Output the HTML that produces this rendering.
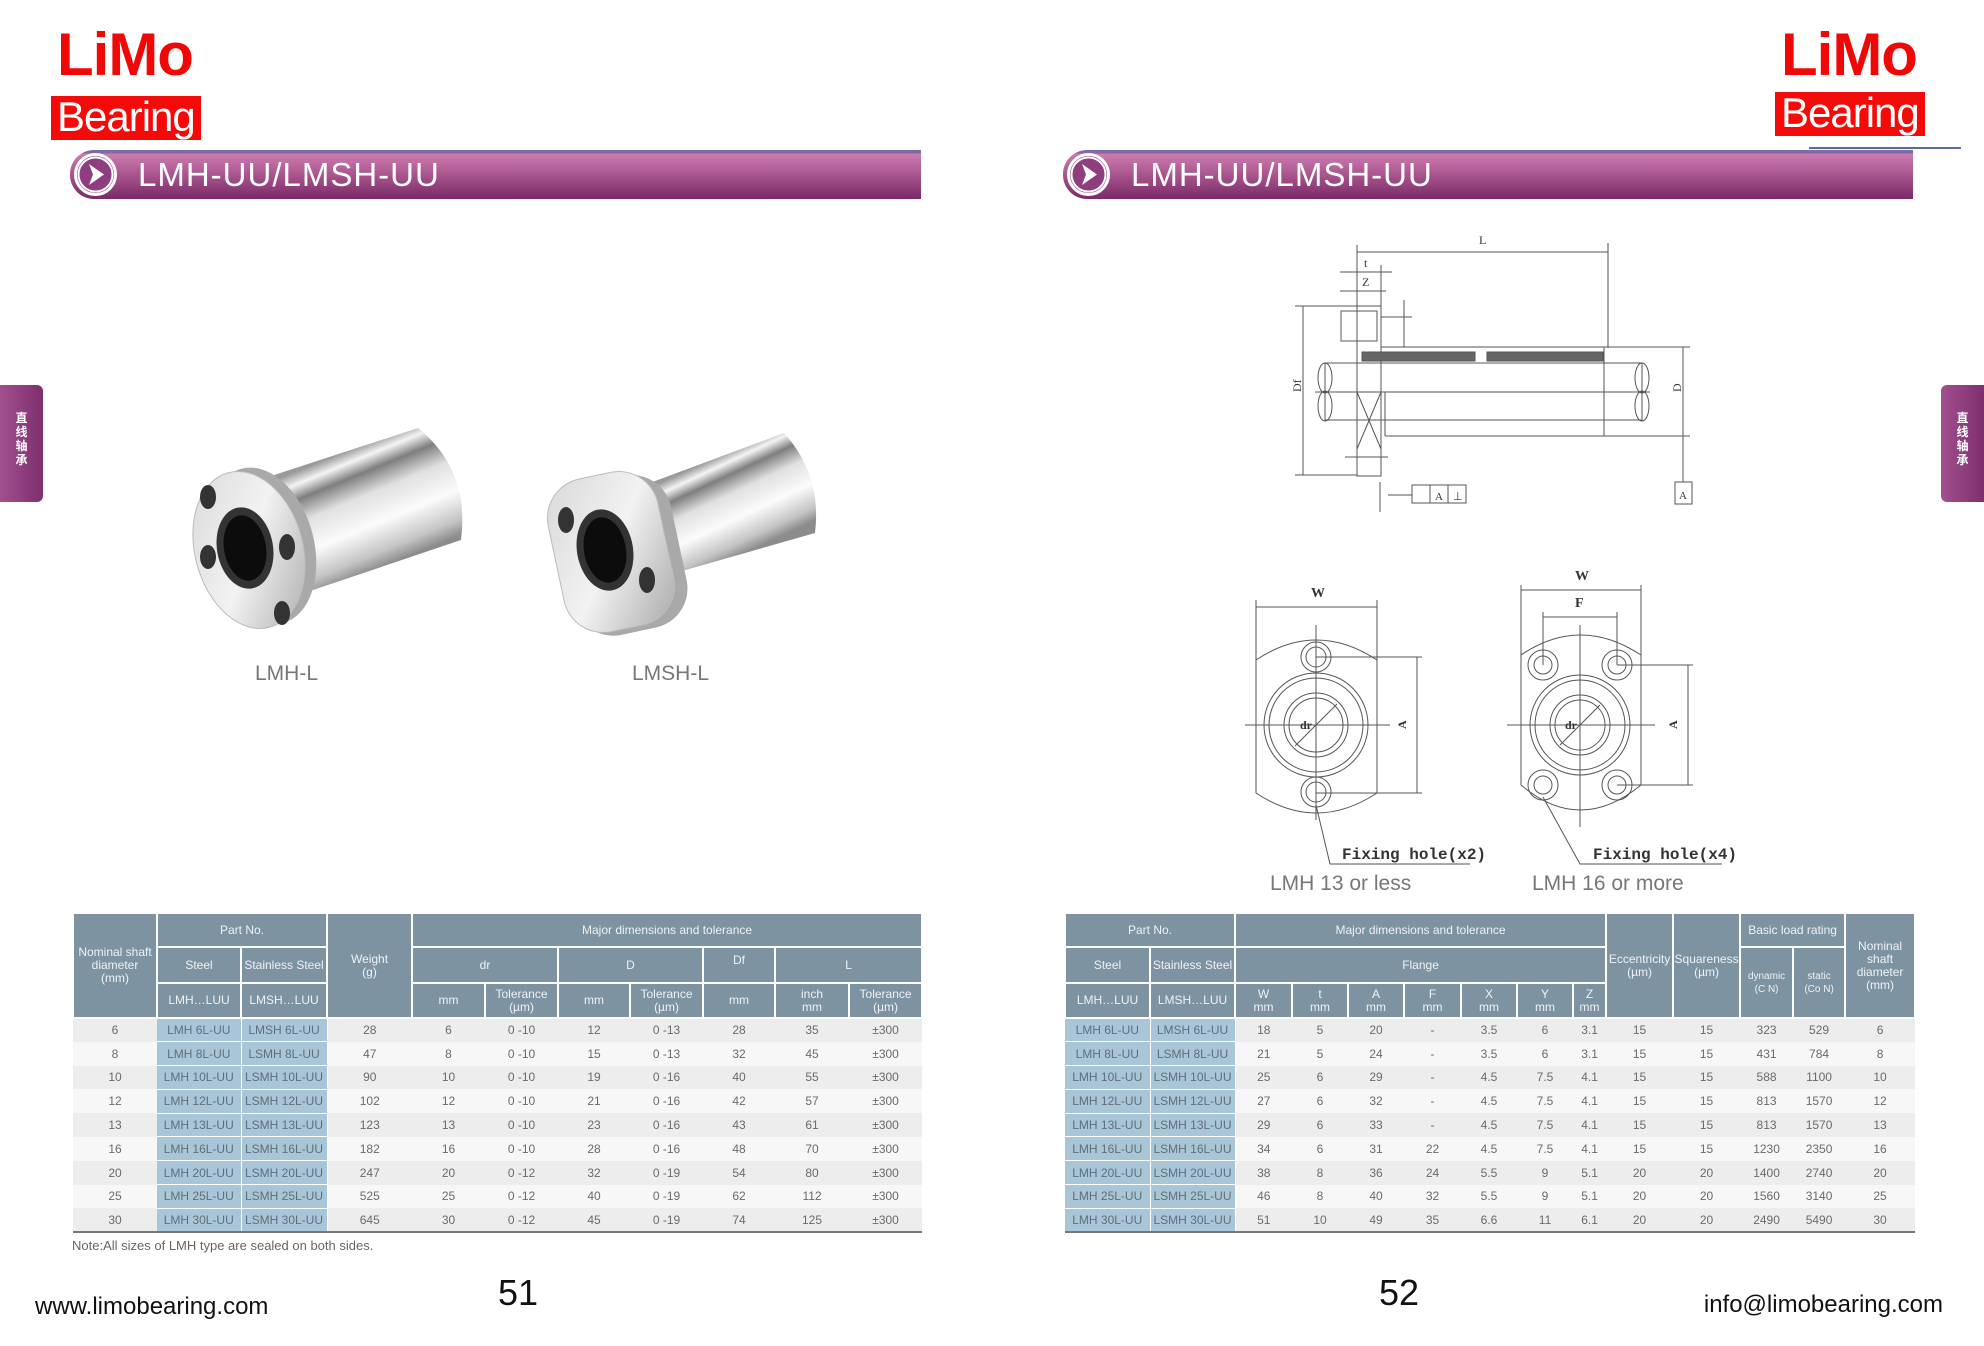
<!DOCTYPE html>
<html><head><meta charset="utf-8">
<style>
*{margin:0;padding:0;box-sizing:border-box}
body{width:1984px;height:1346px;background:#fff;position:relative;overflow:hidden;font-family:"Liberation Sans",sans-serif}
.abs{position:absolute}
.limo{position:absolute;color:#f00807;font-weight:bold;font-size:60px;line-height:62px;letter-spacing:-1px}
.bear{position:absolute;background:#f50a0a;color:#fff;font-size:42px;line-height:42px;padding:0 6px;height:44px;letter-spacing:-1px}
.bar{position:absolute;top:150px;height:49px;background:linear-gradient(#7d6aa6 0,#7d6aa6 3px,#cc7db0 4px,#a9558e 50%,#7a2a68 100%);border-radius:24px 0 0 24px}
.bar .t{position:absolute;left:68px;top:6px;color:#fff;font-size:33px;letter-spacing:1px}
.bar .ic{position:absolute;left:4px;top:3px;width:43px;height:43px;border-radius:50%;border:3px solid #fff;background:#8e3e7f}
.tab{position:absolute;top:385px;width:43px;height:117px;background:linear-gradient(90deg,#a2508f,#7e2f6e);color:#fff;font-size:12px;font-weight:bold;line-height:14px;text-align:center;padding-top:26px;font-family:"Liberation Sans","Noto Sans CJK SC",sans-serif}
table{position:absolute;border-collapse:collapse;table-layout:fixed;font-family:"Liberation Sans Narrow","Liberation Sans",sans-serif;font-size:12px;color:#6a6a6a}
th{background:#7e93a1;color:#eef2f5;font-weight:normal;border:2px solid #fff;line-height:13px;text-align:center;padding:0}
td{text-align:center;height:23.8px;padding:0}
tr.a td{background:#ededed}
tr.b td{background:#f7f7f7}
td.p{background:#a8c6d8 !important;border-right:1px solid #fff;border-bottom:1px solid #fff;color:#5f6f7a}
tbody tr:last-child td{border-bottom:2px solid #777}
.lbl{position:absolute;font-family:"Liberation Sans Narrow","Liberation Sans",sans-serif;color:#777;font-size:21px}
</style></head><body>

<div class="limo" style="left:57px;top:24px">LiMo</div>
<div class="bear" style="left:51px;top:96px">Bearing</div>
<div class="limo" style="left:1781px;top:24px">LiMo</div>
<div class="bear" style="left:1775px;top:92px">Bearing</div>
<div class="abs" style="left:1809px;top:147px;width:152px;height:2px;background:#5b6b9e"></div>

<div class="bar" style="left:70px;width:851px"><div class="ic"></div><svg class="abs" style="left:4px;top:3px" width="43" height="43"><circle cx="21.5" cy="21.5" r="17" fill="none" stroke="#fff" stroke-width="2"/><path d="M15 11 L30 21.5 L15 32 L19 21.5Z" fill="#fff"/></svg><div class="t">LMH-UU/LMSH-UU</div></div>
<div class="bar" style="left:1063px;width:850px"><div class="ic"></div><svg class="abs" style="left:4px;top:3px" width="43" height="43"><circle cx="21.5" cy="21.5" r="17" fill="none" stroke="#fff" stroke-width="2"/><path d="M15 11 L30 21.5 L15 32 L19 21.5Z" fill="#fff"/></svg><div class="t">LMH-UU/LMSH-UU</div></div>

<div class="tab" style="left:0;border-radius:0 6px 6px 0">直<br>线<br>轴<br>承</div>
<div class="tab" style="left:1941px;border-radius:6px 0 0 6px">直<br>线<br>轴<br>承</div>

<!-- products -->
<svg class="abs" style="left:0;top:0" width="1000" height="720">
<defs>
<linearGradient id="cy1" gradientUnits="userSpaceOnUse" x1="341" y1="453" x2="387" y2="565">
<stop offset="0" stop-color="#9a9a9a"/><stop offset="0.1" stop-color="#f4f4f4"/><stop offset="0.22" stop-color="#7e7e7e"/><stop offset="0.4" stop-color="#e0e0e0"/><stop offset="0.65" stop-color="#fbfbfb"/><stop offset="0.88" stop-color="#c4c4c4"/><stop offset="1" stop-color="#8c8c8c"/>
</linearGradient>
<linearGradient id="cy2" gradientUnits="userSpaceOnUse" x1="703" y1="463" x2="745" y2="553">
<stop offset="0" stop-color="#9a9a9a"/><stop offset="0.1" stop-color="#f4f4f4"/><stop offset="0.22" stop-color="#7e7e7e"/><stop offset="0.4" stop-color="#e0e0e0"/><stop offset="0.65" stop-color="#fbfbfb"/><stop offset="0.88" stop-color="#c4c4c4"/><stop offset="1" stop-color="#8c8c8c"/>
</linearGradient>
<linearGradient id="fl" x1="0" y1="0" x2="1" y2="1">
<stop offset="0" stop-color="#d8d8d8"/><stop offset="0.5" stop-color="#f2f2f2"/><stop offset="1" stop-color="#a8a8a8"/>
</linearGradient>
</defs>
<g>
<path d="M265,478 L418,428 Q470,470 461,540 L313,590 Z" fill="url(#cy1)"/>
<ellipse cx="262" cy="546" rx="52" ry="80" transform="rotate(-15 262 546)" fill="#a9a9a9"/>
<ellipse cx="249" cy="550" rx="54" ry="80" transform="rotate(-15 249 550)" fill="url(#fl)" stroke="#bbb"/>
<ellipse cx="245" cy="548" rx="28" ry="41" transform="rotate(-10 245 548)" fill="#333"/>
<ellipse cx="245" cy="548" rx="21" ry="33" transform="rotate(-10 245 548)" fill="#0c0c0c"/>
<ellipse cx="208" cy="497" rx="8" ry="12" fill="#333"/>
<ellipse cx="208" cy="557" rx="8" ry="12" fill="#333"/>
<ellipse cx="287" cy="547" rx="8" ry="13" fill="#333"/>
<ellipse cx="282" cy="613" rx="8" ry="12" fill="#333"/>
</g>
<g>
<path d="M623,493 L784,433 Q822,475 815,533 L675,573 Z" fill="url(#cy2)"/>
<rect x="565" y="478" width="115" height="155" rx="40" transform="rotate(-12 622 555)" fill="#a9a9a9"/>
<rect x="555" y="474" width="112" height="156" rx="40" transform="rotate(-12 611 552)" fill="url(#fl)" stroke="#bbb"/>
<ellipse cx="605" cy="550" rx="28" ry="41" transform="rotate(-10 605 550)" fill="#333"/>
<ellipse cx="605" cy="550" rx="21" ry="33" transform="rotate(-10 605 550)" fill="#0c0c0c"/>
<ellipse cx="566" cy="520" rx="8" ry="13" fill="#333"/>
<ellipse cx="647" cy="580" rx="8" ry="13" fill="#333"/>
</g>
</svg>
<div class="lbl" style="left:255px;top:662px">LMH-L</div>
<div class="lbl" style="left:632px;top:662px">LMSH-L</div>

<!-- drawings -->
<svg class="abs" style="left:0;top:0" width="1984" height="900" fill="none" stroke="#555" stroke-width="1" font-family="Liberation Serif,serif">
<line x1="1357" y1="252" x2="1608" y2="252"/>
<line x1="1357" y1="245" x2="1357" y2="476"/>
<line x1="1608" y1="243" x2="1608" y2="348"/>
<line x1="1340" y1="272" x2="1392" y2="272"/><line x1="1340" y1="291" x2="1386" y2="291"/>
<line x1="1381" y1="265" x2="1381" y2="476"/>
<rect x="1357" y="306" width="24" height="170"/>
<rect x="1341" y="311" width="36" height="30"/>
<line x1="1381" y1="347" x2="1690" y2="347"/>
<line x1="1385" y1="436" x2="1690" y2="436"/>
<line x1="1385" y1="392" x2="1385" y2="436"/>
<line x1="1604" y1="347" x2="1604" y2="436"/>
<rect x="1325" y="363" width="317" height="57"/>
<ellipse cx="1325" cy="378" rx="7" ry="15"/><ellipse cx="1325" cy="406" rx="7" ry="15"/>
<ellipse cx="1642" cy="378" rx="7" ry="15"/><ellipse cx="1642" cy="406" rx="7" ry="15"/>
<line x1="1315" y1="392" x2="1650" y2="392"/>
<rect x="1362" y="352" width="113" height="9" fill="#666"/>
<rect x="1487" y="352" width="116" height="9" fill="#666"/>
<line x1="1357" y1="392" x2="1381" y2="449"/><line x1="1381" y1="392" x2="1357" y2="449"/>
<line x1="1345" y1="457" x2="1388" y2="457"/>
<line x1="1295" y1="306" x2="1357" y2="306"/><line x1="1295" y1="475" x2="1357" y2="475"/>
<line x1="1303" y1="306" x2="1303" y2="475"/>
<line x1="1683" y1="347" x2="1683" y2="482"/>
<line x1="1404" y1="300" x2="1404" y2="347"/><line x1="1381" y1="317" x2="1412" y2="317"/>
<rect x="1412" y="485" width="54" height="18"/><line x1="1430" y1="485" x2="1430" y2="503"/><line x1="1448" y1="485" x2="1448" y2="503"/>
<rect x="1675" y="482" width="17" height="22"/>
<line x1="1380" y1="482" x2="1380" y2="512"/><line x1="1388" y1="495" x2="1412" y2="495"/>
<g fill="#333" stroke="none" font-size="12">
<text x="1479" y="244">L</text><text x="1364" y="267">t</text><text x="1362" y="286">Z</text>
<text x="1435" y="500" font-size="11">A</text><text x="1453" y="500" font-size="11">⊥</text><text x="1679" y="499" font-size="11">A</text>
<text x="1295" y="398" transform="rotate(-90 1295 392)">Df</text>
<text x="1675" y="398" transform="rotate(-90 1675 392)">D</text>
</g>
<path d="M1256 660 Q1316 620 1377 660 L1377 793 Q1316 833 1256 793 Z"/>
<circle cx="1316" cy="725" r="52"/><circle cx="1316" cy="725" r="47"/>
<circle cx="1316" cy="725" r="32"/><circle cx="1316" cy="725" r="27"/>
<circle cx="1316" cy="657" r="15"/><circle cx="1316" cy="657" r="10"/>
<circle cx="1316" cy="792" r="15"/><circle cx="1316" cy="792" r="10"/>
<line x1="1245" y1="725" x2="1390" y2="725"/><line x1="1316" y1="625" x2="1316" y2="820"/>
<line x1="1256" y1="600" x2="1256" y2="660"/><line x1="1377" y1="600" x2="1377" y2="660"/>
<line x1="1256" y1="607" x2="1377" y2="607"/>
<line x1="1316" y1="657" x2="1422" y2="657"/><line x1="1316" y1="793" x2="1422" y2="793"/>
<line x1="1417" y1="657" x2="1417" y2="793"/>
<line x1="1295" y1="746" x2="1337" y2="704"/>
<polyline points="1316,805 1330,864 1470,864"/>
<path d="M1521 655 Q1580 615 1641 655 L1641 785 Q1580 835 1521 785 Z"/>
<circle cx="1580" cy="725" r="50"/><circle cx="1580" cy="725" r="45"/>
<circle cx="1580" cy="725" r="30"/><circle cx="1580" cy="725" r="25"/>
<circle cx="1543" cy="665" r="15"/><circle cx="1543" cy="665" r="9"/>
<circle cx="1617" cy="665" r="15"/><circle cx="1617" cy="665" r="9"/>
<circle cx="1543" cy="785" r="15"/><circle cx="1543" cy="785" r="9"/>
<circle cx="1617" cy="785" r="15"/><circle cx="1617" cy="785" r="9"/>
<line x1="1507" y1="725" x2="1655" y2="725"/><line x1="1580" y1="625" x2="1580" y2="827"/>
<line x1="1521" y1="585" x2="1521" y2="655"/><line x1="1641" y1="585" x2="1641" y2="655"/>
<line x1="1521" y1="590" x2="1641" y2="590"/>
<line x1="1543" y1="612" x2="1543" y2="665"/><line x1="1617" y1="612" x2="1617" y2="665"/>
<line x1="1543" y1="617" x2="1617" y2="617"/>
<line x1="1617" y1="665" x2="1693" y2="665"/><line x1="1617" y1="785" x2="1693" y2="785"/>
<line x1="1688" y1="665" x2="1688" y2="785"/>
<line x1="1560" y1="745" x2="1600" y2="705"/>
<polyline points="1543,797 1580,864 1722,864"/>
<g fill="#333" stroke="none" font-size="14" font-weight="bold">
<text x="1311" y="597">W</text><text x="1575" y="580">W</text><text x="1575" y="607">F</text>
<text x="1300" y="729" font-size="12">dr</text><text x="1565" y="729" font-size="12">dr</text>
<text x="1398" y="729" font-size="12" transform="rotate(-90 1402 725)">A</text>
<text x="1669" y="729" font-size="12" transform="rotate(-90 1673 725)">A</text>
<text x="1342" y="859" font-family="Liberation Mono,monospace" font-size="16">Fixing hole(x2)</text>
<text x="1593" y="859" font-family="Liberation Mono,monospace" font-size="16">Fixing hole(x4)</text>
</g>
</svg>
<div class="lbl" style="left:1270px;top:872px">LMH 13 or less</div>
<div class="lbl" style="left:1532px;top:872px">LMH 16 or more</div>

<table style="left:72px;top:912px;width:849px">
<colgroup><col style="width:84px"><col style="width:84px"><col style="width:86px"><col style="width:85px"><col style="width:73px"><col style="width:73px"><col style="width:72px"><col style="width:73px"><col style="width:72px"><col style="width:74px"><col style="width:73px"></colgroup>
<thead>
<tr style="height:34px"><th rowspan="3">Nominal shaft<br>diameter<br>(mm)</th><th colspan="2">Part No.</th><th rowspan="3">Weight<br>(g)</th><th colspan="7">Major dimensions and tolerance</th></tr>
<tr style="height:36px"><th>Steel</th><th>Stainless Steel</th><th colspan="2">dr</th><th colspan="2">D</th><th style="vertical-align:top;padding-top:6px">Df</th><th colspan="2">L</th></tr>
<tr style="height:35px"><th>LMH…LUU</th><th>LMSH…LUU</th><th>mm</th><th>Tolerance<br>(µm)</th><th>mm</th><th>Tolerance<br>(µm)</th><th>mm</th><th>inch<br>mm</th><th>Tolerance<br>(µm)</th></tr>
</thead>
<tbody>
<tr class="a"><td>6</td><td class="p">LMH 6L-UU</td><td class="p">LMSH 6L-UU</td><td>28</td><td>6</td><td>0 -10</td><td>12</td><td>0 -13</td><td>28</td><td>35</td><td>±300</td></tr>
<tr class="b"><td>8</td><td class="p">LMH 8L-UU</td><td class="p">LSMH 8L-UU</td><td>47</td><td>8</td><td>0 -10</td><td>15</td><td>0 -13</td><td>32</td><td>45</td><td>±300</td></tr>
<tr class="a"><td>10</td><td class="p">LMH 10L-UU</td><td class="p">LSMH 10L-UU</td><td>90</td><td>10</td><td>0 -10</td><td>19</td><td>0 -16</td><td>40</td><td>55</td><td>±300</td></tr>
<tr class="b"><td>12</td><td class="p">LMH 12L-UU</td><td class="p">LSMH 12L-UU</td><td>102</td><td>12</td><td>0 -10</td><td>21</td><td>0 -16</td><td>42</td><td>57</td><td>±300</td></tr>
<tr class="a"><td>13</td><td class="p">LMH 13L-UU</td><td class="p">LSMH 13L-UU</td><td>123</td><td>13</td><td>0 -10</td><td>23</td><td>0 -16</td><td>43</td><td>61</td><td>±300</td></tr>
<tr class="b"><td>16</td><td class="p">LMH 16L-UU</td><td class="p">LSMH 16L-UU</td><td>182</td><td>16</td><td>0 -10</td><td>28</td><td>0 -16</td><td>48</td><td>70</td><td>±300</td></tr>
<tr class="a"><td>20</td><td class="p">LMH 20L-UU</td><td class="p">LSMH 20L-UU</td><td>247</td><td>20</td><td>0 -12</td><td>32</td><td>0 -19</td><td>54</td><td>80</td><td>±300</td></tr>
<tr class="b"><td>25</td><td class="p">LMH 25L-UU</td><td class="p">LSMH 25L-UU</td><td>525</td><td>25</td><td>0 -12</td><td>40</td><td>0 -19</td><td>62</td><td>112</td><td>±300</td></tr>
<tr class="a"><td>30</td><td class="p">LMH 30L-UU</td><td class="p">LSMH 30L-UU</td><td>645</td><td>30</td><td>0 -12</td><td>45</td><td>0 -19</td><td>74</td><td>125</td><td>±300</td></tr>
</tbody></table>
<div class="abs" style="left:72px;top:1238px;font-size:13px;color:#666">Note:All sizes of LMH type are sealed on both sides.</div>

<table style="left:1064px;top:912px;width:849px">
<colgroup><col style="width:85px"><col style="width:85px"><col style="width:57px"><col style="width:56px"><col style="width:56px"><col style="width:57px"><col style="width:56px"><col style="width:56px"><col style="width:33px"><col style="width:67px"><col style="width:67px"><col style="width:53px"><col style="width:52px"><col style="width:70px"></colgroup>
<thead>
<tr style="height:34px"><th colspan="2">Part No.</th><th colspan="7">Major dimensions and tolerance</th><th rowspan="3">Eccentricity<br>(µm)</th><th rowspan="3">Squareness<br>(µm)</th><th colspan="2">Basic load rating</th><th rowspan="3">Nominal<br>shaft<br>diameter<br>(mm)</th></tr>
<tr style="height:36px"><th>Steel</th><th>Stainless Steel</th><th colspan="7">Flange</th><th rowspan="2" style="font-size:10px">dynamic<br>(C N)</th><th rowspan="2" style="font-size:10px">static<br>(Co N)</th></tr>
<tr style="height:35px"><th>LMH…LUU</th><th>LMSH…LUU</th><th>W<br>mm</th><th>t<br>mm</th><th>A<br>mm</th><th>F<br>mm</th><th>X<br>mm</th><th>Y<br>mm</th><th>Z<br>mm</th></tr>
</thead>
<tbody>
<tr class="a"><td class="p">LMH 6L-UU</td><td class="p">LMSH 6L-UU</td><td>18</td><td>5</td><td>20</td><td>-</td><td>3.5</td><td>6</td><td>3.1</td><td>15</td><td>15</td><td>323</td><td>529</td><td>6</td></tr>
<tr class="b"><td class="p">LMH 8L-UU</td><td class="p">LSMH 8L-UU</td><td>21</td><td>5</td><td>24</td><td>-</td><td>3.5</td><td>6</td><td>3.1</td><td>15</td><td>15</td><td>431</td><td>784</td><td>8</td></tr>
<tr class="a"><td class="p">LMH 10L-UU</td><td class="p">LSMH 10L-UU</td><td>25</td><td>6</td><td>29</td><td>-</td><td>4.5</td><td>7.5</td><td>4.1</td><td>15</td><td>15</td><td>588</td><td>1100</td><td>10</td></tr>
<tr class="b"><td class="p">LMH 12L-UU</td><td class="p">LSMH 12L-UU</td><td>27</td><td>6</td><td>32</td><td>-</td><td>4.5</td><td>7.5</td><td>4.1</td><td>15</td><td>15</td><td>813</td><td>1570</td><td>12</td></tr>
<tr class="a"><td class="p">LMH 13L-UU</td><td class="p">LSMH 13L-UU</td><td>29</td><td>6</td><td>33</td><td>-</td><td>4.5</td><td>7.5</td><td>4.1</td><td>15</td><td>15</td><td>813</td><td>1570</td><td>13</td></tr>
<tr class="b"><td class="p">LMH 16L-UU</td><td class="p">LSMH 16L-UU</td><td>34</td><td>6</td><td>31</td><td>22</td><td>4.5</td><td>7.5</td><td>4.1</td><td>15</td><td>15</td><td>1230</td><td>2350</td><td>16</td></tr>
<tr class="a"><td class="p">LMH 20L-UU</td><td class="p">LSMH 20L-UU</td><td>38</td><td>8</td><td>36</td><td>24</td><td>5.5</td><td>9</td><td>5.1</td><td>20</td><td>20</td><td>1400</td><td>2740</td><td>20</td></tr>
<tr class="b"><td class="p">LMH 25L-UU</td><td class="p">LSMH 25L-UU</td><td>46</td><td>8</td><td>40</td><td>32</td><td>5.5</td><td>9</td><td>5.1</td><td>20</td><td>20</td><td>1560</td><td>3140</td><td>25</td></tr>
<tr class="a"><td class="p">LMH 30L-UU</td><td class="p">LSMH 30L-UU</td><td>51</td><td>10</td><td>49</td><td>35</td><td>6.6</td><td>11</td><td>6.1</td><td>20</td><td>20</td><td>2490</td><td>5490</td><td>30</td></tr>
</tbody></table>

<div class="abs" style="left:35px;top:1293px;font-size:24px;color:#111">www.limobearing.com</div>
<div class="abs" style="left:498px;top:1272px;font-size:36px;color:#111">51</div>
<div class="abs" style="left:1379px;top:1272px;font-size:36px;color:#111">52</div>
<div class="abs" style="right:41px;top:1291px;font-size:24px;color:#111">info@limobearing.com</div>
</body></html>
